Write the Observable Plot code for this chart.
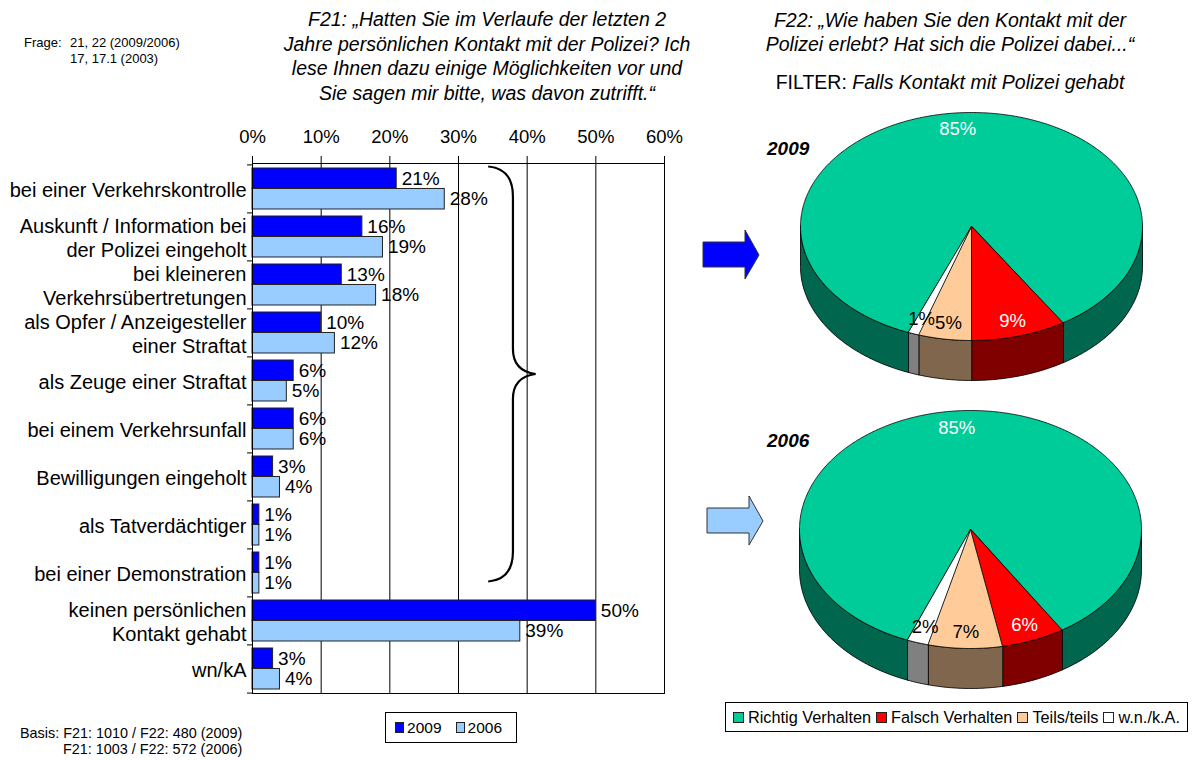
<!DOCTYPE html>
<html><head><meta charset="utf-8">
<script src="https://cdn.jsdelivr.net/npm/d3@7"></script>
<script src="https://cdn.jsdelivr.net/npm/@observablehq/plot@0.6"></script>
<style>
body{margin:0;background:#fff;}
#root{position:relative;width:1192px;height:760px;overflow:hidden;font-family:"Liberation Sans",Arial,sans-serif;color:#000;background:#fff;}
.abs{position:absolute;white-space:nowrap;}
.chart{position:absolute;}
.chart svg{overflow:visible;}
.legend{position:absolute;border:1px solid #000;background:#fff;box-sizing:border-box;display:flex;align-items:center;}
.sw{display:inline-block;width:9px;height:9px;border:1px solid #222;margin-right:3px;}
</style></head><body><div id="root">
<div class="chart" id="bars" style="left:0;top:0"></div>
<div class="chart" id="pie2009" style="left:790px;top:100px"></div>
<div class="chart" id="pie2006" style="left:789px;top:400px"></div>
<svg class="abs" style="left:0;top:0" width="1192" height="760">
  <polygon points="703,242 745,242 745,230 759,255 745,279 745,267 703,267" fill="#0000FF" stroke="#333" stroke-width="1"/>
  <polygon points="707,508 749,508 749,496 763,521 749,545 749,533 707,533" fill="#99CCFF" stroke="#333" stroke-width="1"/>
</svg>
<div class="abs" style="left:24px;top:35px;font-size:13px;">Frage:</div>
<div class="abs" style="left:70px;top:35px;font-size:13px;">21, 22 (2009/2006)</div>
<div class="abs" style="left:70px;top:51px;font-size:13px;">17, 17.1 (2003)</div>
<div class="abs" style="left:237px;top:7px;width:500px;text-align:center;font-size:19.5px;font-style:italic;line-height:24.5px;white-space:normal;">F21: „Hatten Sie im Verlaufe der letzten 2<br>Jahre persönlichen Kontakt mit der Polizei? Ich<br>lese Ihnen dazu einige Möglichkeiten vor und<br>Sie sagen mir bitte, was davon zutrifft.“</div>
<div class="abs" style="left:700px;top:8px;width:500px;text-align:center;font-size:19.5px;font-style:italic;line-height:24px;white-space:normal;">F22: „Wie haben Sie den Kontakt mit der<br>Polizei erlebt? Hat sich die Polizei dabei...“</div>
<div class="abs" style="left:700px;top:71px;width:500px;text-align:center;font-size:19.5px;">FILTER: <i>Falls Kontakt mit Polizei gehabt</i></div>
<div class="abs" style="left:767px;top:138px;font-size:19px;font-weight:bold;font-style:italic;">2009</div>
<div class="abs" style="left:767px;top:430px;font-size:19px;font-weight:bold;font-style:italic;">2006</div>
<div class="abs" style="left:20px;top:725px;font-size:14.4px;">Basis: F21: 1010 / F22: 480 (2009)</div>
<div class="abs" style="left:63px;top:741px;font-size:14.4px;">F21: 1003 / F22: 572 (2006)</div>
<div class="legend" id="barLegend" style="left:385px;top:712px;width:132px;height:31px;padding-left:9px;font-size:15.5px;"></div>
<div class="legend" id="pieLegend" style="left:725px;top:702px;width:463px;height:30px;padding-left:7px;font-size:16.3px;"></div>
</div>
<script>
// ---------- data ----------
const categories = ["bei einer Verkehrskontrolle","Auskunft / Information bei der Polizei eingeholt","bei kleineren Verkehrsübertretungen","als Opfer / Anzeigesteller einer Straftat","als Zeuge einer Straftat","bei einem Verkehrsunfall","Bewilligungen eingeholt","als Tatverdächtiger","bei einer Demonstration","keinen persönlichen Kontakt gehabt","wn/kA"];
const categoryTickLabels = ["bei einer Verkehrskontrolle","Auskunft / Information bei\nder Polizei eingeholt","bei kleineren\nVerkehrsübertretungen","als Opfer / Anzeigesteller\neiner Straftat","als Zeuge einer Straftat","bei einem Verkehrsunfall","Bewilligungen eingeholt","als Tatverdächtiger","bei einer Demonstration","keinen persönlichen\nKontakt gehabt","wn/kA"];
const values2009 = [21,16,13,10,6,6,3,1,1,50,3];
const values2006 = [28,19,18,12,5,6,4,1,1,39,4];
const seriesNames = ["2009","2006"];
const xTicks = [0,10,20,30,40,50,60];
const xTickLabels = ["0%","10%","20%","30%","40%","50%","60%"];
const pieCategories = ["Richtig Verhalten","Falsch Verhalten","Teils/teils","w.n./k.A."];
const pie2009 = [85,9,5,1];
const pie2006 = [85,6,7,2];

// ---------- styles ----------
const FONT = '"Liberation Sans", Arial, sans-serif';
const barColors = ["#0000FF","#99CCFF"];
const pieColors = ["#00CC99","#FF0000","#FFCC99","#FFFFFF"];

// ---------- bar chart ----------
const W = 700, H = 700, mL = 252, mR = 36, mT = 163, mB = 7;
const step = (H - mT - mB) / categories.length;
const bw = step * 0.85;
const rows = categories.map((c, i) => ({category: c, label: categoryTickLabels[i], a: values2009[i], b: values2006[i]}));
const labelOf = new Map(rows.map(r => [r.category, r.label]));

function brace(index, scales) {
  const x = scales.x, y = scales.y;
  const y0 = y(categories[0]) - 1.5;
  const y1 = y(categories[8]) + 0.72 * y.bandwidth();
  const ym = (y0 + y1) / 2;
  const xa = x(34.4), xb = x(38), xc = x(41.3);
  const p = d3.path();
  p.moveTo(xa, y0);
  p.quadraticCurveTo(xb, y0 + 2, xb, y0 + 30);
  p.lineTo(xb, ym - 25);
  p.quadraticCurveTo(xb, ym - 3, xc, ym);
  p.quadraticCurveTo(xb, ym + 3, xb, ym + 25);
  p.lineTo(xb, y1 - 30);
  p.quadraticCurveTo(xb, y1 - 2, xa, y1);
  const el = document.createElementNS("http://www.w3.org/2000/svg", "path");
  el.setAttribute("d", p.toString());
  el.setAttribute("fill", "none");
  el.setAttribute("stroke", "#000");
  el.setAttribute("stroke-width", "2.2");
  return el;
}

const barPlot = Plot.plot({
  width: W, height: H, marginLeft: mL, marginRight: mR, marginTop: mT, marginBottom: mB,
  style: {fontFamily: FONT, fontSize: "19px", color: "#000", background: "transparent", overflow: "visible"},
  x: {domain: [0, 60], label: null},
  y: {domain: categories, paddingInner: 0.15, paddingOuter: 0.075, label: null},
  marks: [
    Plot.ruleX(xTicks.slice(1), {stroke: "#000", strokeWidth: 1}),
    Plot.barX(rows, {x: "a", y: "category", insetBottom: bw / 2, fill: barColors[0], stroke: "#222", strokeWidth: 1}),
    Plot.barX(rows, {x: "b", y: "category", insetTop: bw / 2, fill: barColors[1], stroke: "#222", strokeWidth: 1}),
    Plot.text(rows, {x: "a", y: "category", dy: -bw / 4, dx: 5, text: d => d.a + "%", textAnchor: "start", fontSize: 19, fill: "#000"}),
    Plot.text(rows, {x: "b", y: "category", dy: bw / 4, dx: 5, text: d => d.b + "%", textAnchor: "start", fontSize: 19, fill: "#000"}),
    Plot.frame({stroke: "#000", strokeWidth: 1}),
    Plot.axisX({anchor: "top", ticks: xTicks, tickFormat: d => xTickLabels[xTicks.indexOf(d)], tickSize: 8, tickPadding: 13, fontSize: 18.5, stroke: "#000", label: null}),
    Plot.axisY({anchor: "left", tickSize: 0, tickPadding: 6, tickFormat: d => labelOf.get(d), lineHeight: 1.2, fontSize: 20, label: null}),
    Plot.axisY({anchor: "left", tickSize: 5, tickFormat: () => "", dy: -step / 2, label: null}),
    Plot.axisY({anchor: "left", ticks: [categories[categories.length - 1]], tickSize: 5, tickFormat: () => "", dy: step / 2, label: null}),
    brace
  ]
});
document.getElementById("bars").appendChild(barPlot);

// ---------- 3D pies ----------
const START = 201.6 * Math.PI / 180;
function pieChart(values, cfg) {
  const arcs = d3.pie().sort(null).startAngle(START).endAngle(START + 2 * Math.PI)(values);
  const top = [], side = [], labels = [];
  const arcPts = (id, cat, a, b, dyv, arr) => {
    const n = Math.max(2, Math.ceil(Math.abs(b - a) / 0.01));
    for (let k = 0; k <= n; k++) {
      const t = a + (b - a) * k / n;
      arr.push({id, cat, x: Math.sin(t), y: -Math.cos(t) + dyv});
    }
  };
  arcs.forEach((a, i) => {
    const cat = pieCategories[i];
    const id = "t" + i;
    top.push({id, cat, x: 0, y: 0});
    arcPts(id, cat, a.startAngle, a.endAngle, 0, top);
    for (const k of [0, 1, 2]) {
      const lo = Math.max(a.startAngle, Math.PI / 2 + 2 * Math.PI * k);
      const hi = Math.min(a.endAngle, 3 * Math.PI / 2 + 2 * Math.PI * k);
      if (hi > lo) {
        const sid = "s" + i + "_" + k;
        arcPts(sid, cat, lo, hi, 0, side);
        arcPts(sid, cat, hi, lo, cfg.depth, side);
      }
    }
    const mid = (a.startAngle + a.endAngle) / 2;
    labels.push({i, cat, text: values[i] + "%", x: 0.86 * Math.sin(mid), y: -0.86 * Math.cos(mid)});
  });
  return Plot.plot({
    width: cfg.w, height: cfg.h, margin: 0,
    style: {fontFamily: FONT, background: "transparent", overflow: "visible"},
    x: {domain: [-1, 1], range: cfg.xr, axis: null},
    y: {domain: [-1, 1], range: cfg.yr, axis: null},
    color: {domain: pieCategories, range: pieColors},
    marks: [
      Plot.line(side, {x: "x", y: "y", z: "id", curve: "linear-closed", fill: "#000", stroke: "none"}),
      Plot.line(side, {x: "x", y: "y", z: "id", curve: "linear-closed", fill: "cat", fillOpacity: 0.5, stroke: "#000", strokeWidth: 0.8}),
      Plot.line(top, {x: "x", y: "y", z: "id", curve: "linear-closed", fill: "cat", stroke: "#000", strokeWidth: 0.8}),
      Plot.text(labels.filter(d => d.i < 2), {x: "x", y: "y", text: "text", fill: "#fff", fontSize: 18.5}),
      Plot.text(labels.filter(d => d.i >= 2), {x: "x", y: "y", text: "text", fill: "#000", fontSize: 18.5})
    ]
  });
}
document.getElementById("pie2009").appendChild(pieChart(pie2009, {w: 362, h: 300, xr: [10, 352], yr: [12, 240], depth: 40 / 114}));
document.getElementById("pie2006").appendChild(pieChart(pie2006, {w: 362, h: 310, xr: [10, 352], yr: [10, 248], depth: 40 / 119}));

// ---------- legends ----------
function fillLegend(el, names, colors) {
  const isBar = el.id === "barLegend";
  names.forEach((n, i) => {
    const sw = document.createElement("span");
    sw.className = "sw";
    sw.style.background = colors[i];
    sw.style.marginRight = isBar ? "3px" : "4px";
    const t = document.createElement("span");
    t.textContent = n;
    t.style.marginRight = isBar ? "14px" : "5px";
    el.appendChild(sw); el.appendChild(t);
  });
}
fillLegend(document.getElementById("barLegend"), seriesNames, barColors);
fillLegend(document.getElementById("pieLegend"), pieCategories, pieColors);
</script>
</body></html>
